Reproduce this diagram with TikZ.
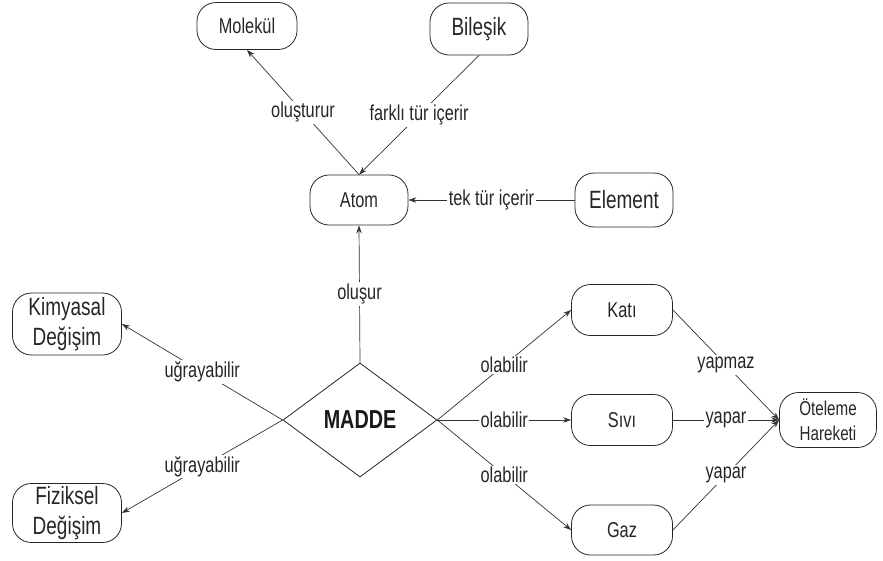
\documentclass[tikz,border=0pt]{standalone}
\usepackage{fontspec}
\setmainfont{Liberation Sans}[FakeStretch=0.76]
\usetikzlibrary{shapes.geometric,arrows.meta}
\tikzset{
  box/.style={draw=black!85, line width=0.8pt, rounded corners=19pt, inner sep=0pt, align=center, text=black!85},
  lbl/.style={fill=white, inner sep=1.5pt, text=black!85, font=\fontsize{21.5}{24}\selectfont},
  conn/.style={draw=black!80, line width=0.7pt},
  arr/.style={conn, -{Stealth[length=8pt,width=5.5pt]}},
}
\newcommand{\fsA}{\fontsize{21.5}{24}\selectfont}
\newcommand{\fsB}{\fontsize{25}{30}\selectfont}
\newcommand{\fsC}{\fontsize{20}{25}\selectfont}
\begin{document}
\begin{tikzpicture}[x=1pt,y=-1pt]
\useasboundingbox (0,0) rectangle (883,560);
\node[box, minimum width=100pt, minimum height=47pt, font=\fsA] (mol) at (247,26) {Molekül};
\node[box, minimum width=98pt, minimum height=52pt, font=\fsB] (bil) at (479,29) {Bileşik};
\node[box, minimum width=98pt, minimum height=50pt, font=\fsA] (atom) at (359,200) {Atom};
\node[box, minimum width=98pt, minimum height=54pt, font=\fsB] (elem) at (624,200) {Element};
\node[box, minimum width=109pt, minimum height=62pt, font=\fsB] (kim) at (67,324) {Kimyasal\\Değişim};
\node[box, minimum width=109pt, minimum height=59pt, font=\fsB] (fiz) at (67,513) {Fiziksel\\Değişim};
\node[draw=black!85, line width=0.8pt, diamond, aspect=1.35, inner sep=0pt, minimum width=154pt, minimum height=114pt, font=\fontsize{26}{30}\selectfont\bfseries, text=black!90] (madde) at (360,420) {MADDE};
\node[box, minimum width=101pt, minimum height=51pt, font=\fsA] (kati) at (622,310) {Katı};
\node[box, minimum width=101pt, minimum height=51pt, font=\fsA] (sivi) at (622,420) {Sıvı};
\node[box, minimum width=101pt, minimum height=50pt, font=\fsA] (gaz) at (622,530) {Gaz};
\node[box, minimum width=97pt, minimum height=55pt, font=\fsC] (ote) at (828,420) {Öteleme\\Hareketi};

\draw[arr] (atom.north) -- node[lbl, midway] {oluşturur} (mol.south);
\draw[arr] (bil.south) -- node[lbl, midway] {farklı tür içerir} (atom.north);
\draw[arr] (elem.west) -- node[lbl, midway] {tek tür içerir} (atom.east);
\draw[arr] (madde.north) -- node[lbl, midway] {oluşur} (atom.south);
\draw[arr] (madde.west) -- node[lbl, midway] {uğrayabilir} (kim.east);
\draw[arr] (madde.west) -- node[lbl, midway] {uğrayabilir} (fiz.east);
\draw[arr] (madde.east) -- node[lbl, midway] {olabilir} (kati.west);
\draw[arr] (madde.east) -- node[lbl, midway] {olabilir} (sivi.west);
\draw[arr] (madde.east) -- node[lbl, midway] {olabilir} (gaz.west);
\draw[arr] (kati.east) -- node[lbl, midway] {yapmaz} (ote.west);
\draw[arr] (sivi.east) -- node[lbl, midway] {yapar} (ote.west);
\draw[arr] (gaz.east) -- node[lbl, midway] {yapar} (ote.west);
\end{tikzpicture}
\end{document}
